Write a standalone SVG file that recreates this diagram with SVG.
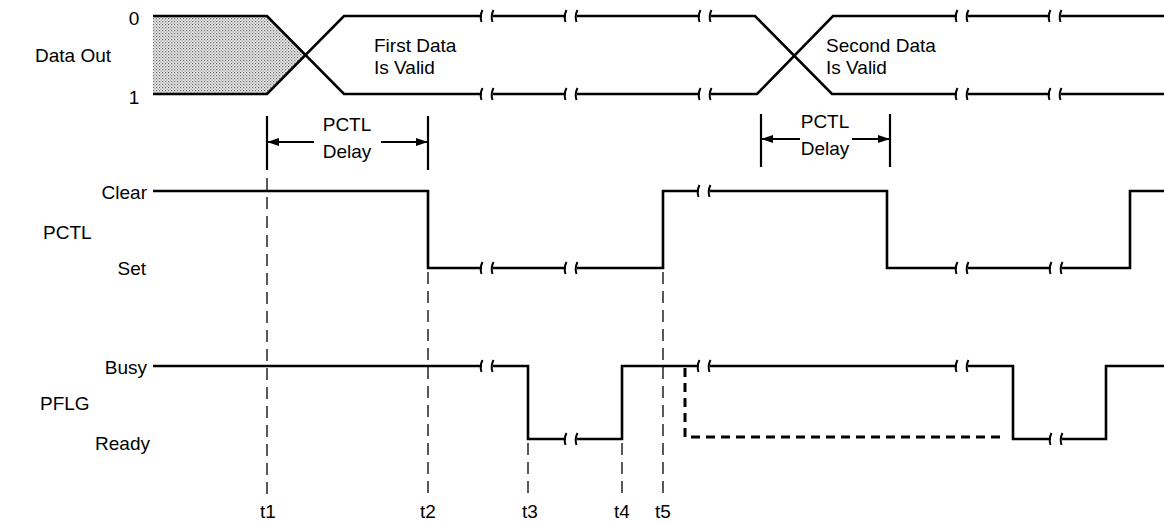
<svg xmlns="http://www.w3.org/2000/svg" xmlns:xlink="http://www.w3.org/1999/xlink" width="1164" height="523" viewBox="0 0 1164 523">
<style>
.sig{fill:none;stroke:#000;stroke-width:2.6;stroke-linejoin:miter}
.brk{fill:none;stroke:#000;stroke-width:2}
.tl{fill:none;stroke:#000;stroke-width:1.3;stroke-dasharray:12 7}
.dl{fill:none;stroke:#000;stroke-width:2.2}
.dsh{fill:none;stroke:#000;stroke-width:3;stroke-dasharray:9 6}
text{font-family:"Liberation Sans",Arial,sans-serif;font-size:19px;fill:#000}
.r{text-anchor:end}
.m{text-anchor:middle}
</style>
<defs>
<pattern id="dots" width="3" height="3" patternUnits="userSpaceOnUse">
<rect width="3" height="3" fill="#ececec"/>
<rect width="1.2" height="1.2" fill="#666"/>
<rect x="1.5" y="1.5" width="1.2" height="1.2" fill="#888"/>
</pattern>
<path id="bk" d="M1.5,-6 Q-1.5,0 0.5,6 M12.5,-6 Q9.5,0 11.5,6"/>
<marker id="ah" markerWidth="12" markerHeight="8" refX="11" refY="4" orient="auto" markerUnits="userSpaceOnUse">
<path d="M0,0 L12,4 L0,8 Z" fill="#000"/>
</marker>
</defs>
<rect width="1164" height="523" fill="#fff"/>

<g id="labels">
<text x="35" y="62">Data Out</text>
<text x="134" y="25" class="m">0</text>
<text x="134" y="104" class="m">1</text>
<text x="147" y="199" class="r">Clear</text>
<text x="43" y="239">PCTL</text>
<text x="146" y="275" class="r">Set</text>
<text x="147" y="374" class="r">Busy</text>
<text x="40" y="410">PFLG</text>
<text x="150" y="450" class="r">Ready</text>
</g>

<g id="data-out">
<polygon points="153,16 267,16 305.5,55 267,94 153,94" fill="url(#dots)"/>
<path class="sig" d="M153,16 H267 L344,94 H482 M493,94 H566 M577,94 H700 M711,94 H757 L833,16 H957 M968,16 H1050 M1061,16 H1164"/>
<path class="sig" d="M153,94 H267 L344,16 H482 M493,16 H566 M577,16 H700 M711,16 H755 L832,94 H957 M968,94 H1050 M1061,94 H1164"/>
<g class="brk">
<use xlink:href="#bk" x="481" y="16"/><use xlink:href="#bk" x="481" y="94"/>
<use xlink:href="#bk" x="565" y="16"/><use xlink:href="#bk" x="565" y="94"/>
<use xlink:href="#bk" x="699" y="16"/><use xlink:href="#bk" x="699" y="94"/>
<use xlink:href="#bk" x="956" y="16"/><use xlink:href="#bk" x="956" y="94"/>
<use xlink:href="#bk" x="1049" y="16"/><use xlink:href="#bk" x="1049" y="94"/>
</g>
<text x="374" y="52">First Data</text>
<text x="374" y="74">Is Valid</text>
<text x="826" y="52">Second Data</text>
<text x="826" y="74">Is Valid</text>
</g>

<g id="delay1">
<path class="dl" d="M267,116 V170 M428,116 V170"/>
<path class="dl" d="M314,142 H268" marker-end="url(#ah)"/>
<path class="dl" d="M381,142 H427" marker-end="url(#ah)"/>
<text x="347" y="131" class="m">PCTL</text>
<text x="347" y="158" class="m">Delay</text>
</g>

<g id="delay2">
<path class="dl" d="M761,114 V167 M890,114 V167"/>
<path class="dl" d="M800,139 H762" marker-end="url(#ah)"/>
<path class="dl" d="M852,139 H889" marker-end="url(#ah)"/>
<text x="825" y="128" class="m">PCTL</text>
<text x="825" y="155" class="m">Delay</text>
</g>

<g id="pctl">
<path class="sig" d="M153,191 H428 V268 H482 M493,268 H566 M577,268 H663 V191 H699 M710,191 H887 V268 H957 M968,268 H1051 M1062,268 H1130 V191 H1164"/>
<g class="brk">
<use xlink:href="#bk" x="481" y="268"/>
<use xlink:href="#bk" x="565" y="268"/>
<use xlink:href="#bk" x="698" y="191"/>
<use xlink:href="#bk" x="956" y="268"/>
<use xlink:href="#bk" x="1050" y="268"/>
</g>
</g>

<g id="pflg">
<path class="sig" d="M153,366 H482 M493,366 H528 V439 H566 M577,439 H622 V366 H699 M710,366 H957 M968,366 H1013 V439 H1051 M1062,439 H1106 V366 H1164"/>
<g class="brk">
<use xlink:href="#bk" x="481" y="366"/>
<use xlink:href="#bk" x="565" y="439"/>
<use xlink:href="#bk" x="698" y="366"/>
<use xlink:href="#bk" x="956" y="366"/>
<use xlink:href="#bk" x="1050" y="439"/>
</g>
<path class="dsh" d="M685,368 V437 H1005"/>
</g>

<g id="connectors">
<path class="tl" d="M267,178 V497"/>
<path class="tl" d="M428,272 V497"/>
<path class="tl" d="M528,443 V497"/>
<path class="tl" d="M622,443 V497"/>
<path class="tl" d="M663,272 V497"/>
</g>

<g id="time-labels">
<text x="268" y="518" class="m">t1</text>
<text x="428" y="518" class="m">t2</text>
<text x="530" y="518" class="m">t3</text>
<text x="622" y="518" class="m">t4</text>
<text x="663" y="518" class="m">t5</text>
</g>
</svg>
